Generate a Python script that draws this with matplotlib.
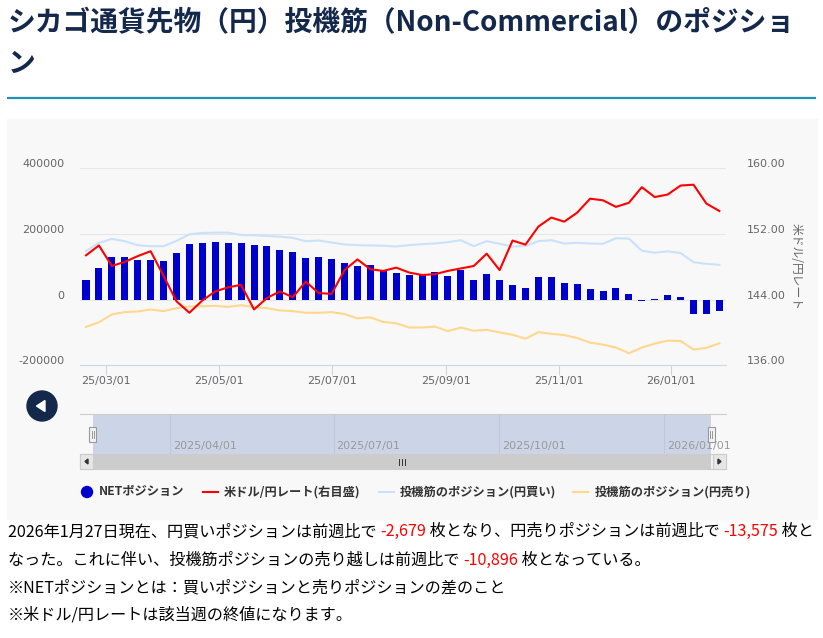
import pandas as pd
import matplotlib
matplotlib.use('Agg')
import matplotlib.pyplot as plt
import matplotlib.dates as mdates
import matplotlib.transforms as mtransforms
from matplotlib.patches import Rectangle, Circle, Polygon

plt.rcParams['font.family'] = ['Noto Sans CJK JP', 'DejaVu Sans']

# weekly COT report dates (Tuesdays)
weeks = pd.date_range('2025-02-18', periods=50, freq='7D')

net_position = [59000, 95000, 131000, 131000, 122000, 122000, 119000, 143000, 168000, 174000,
                177000, 174000, 171000, 165000, 162000, 150000, 144000, 128000, 131000, 125000,
                113000, 101000, 104000, 86000, 80000, 74000, 74000, 83000, 71000, 89000,
                59000, 77000, 59000, 44000, 35000, 68000, 68000, 50000, 47000, 32000,
                25000, 34000, 17000, -4000, 2000, 14000, 7000, -43000, -43000, -34000]

usdjpy = [149.4, 150.6, 148.1, 148.6, 149.3, 149.9, 146.9, 143.8, 142.4, 143.9,
          145.0, 145.5, 145.8, 142.8, 144.2, 145.0, 144.3, 146.2, 144.8, 144.7,
          147.6, 148.9, 147.7, 147.5, 147.9, 147.3, 147.0, 147.1, 147.5, 147.8,
          148.1, 149.6, 147.6, 151.2, 150.7, 152.9, 154.0, 153.5, 154.6, 156.3,
          156.1, 155.3, 155.8, 157.7, 156.5, 156.8, 157.9, 158.0, 155.7, 154.8]

long_position = [147700, 172900, 184900, 177900, 165800, 162800, 162800, 178900, 199000, 203000,
                 204000, 204000, 197000, 196000, 194000, 192000, 188000, 178000, 180000, 174000,
                 168000, 166000, 165000, 164000, 162000, 166000, 169000, 171000, 175000, 181000,
                 163000, 178000, 170000, 162000, 163000, 178000, 181000, 171000, 173000, 171000,
                 170000, 187000, 186000, 149000, 143000, 147000, 142000, 114000, 109000, 106000]

short_position = [-83000, -69000, -45000, -38000, -36000, -30000, -35000, -26000, -21000, -20000,
                  -19000, -22000, -17000, -23000, -26000, -33000, -35000, -40000, -40000, -38000,
                  -44000, -57000, -54000, -68000, -72000, -85000, -85000, -82000, -96000, -85000,
                  -95000, -92000, -100000, -107000, -119000, -99000, -104000, -108000, -117000, -131000,
                  -137000, -146000, -163000, -146000, -134000, -125000, -126000, -152000, -147000, -133000]

left_ticks = [-200000, 0, 200000, 400000]
right_ticks = [136, 144, 152, 160]
month_ticks = pd.to_datetime(['2025-03-01', '2025-05-01', '2025-07-01',
                              '2025-09-01', '2025-11-01', '2026-01-01'])
nav_ticks = pd.to_datetime(['2025-04-01', '2025-07-01', '2025-10-01', '2026-01-01'])

title_lines = ['シカゴ通貨先物（円）投機筋（Non-Commercial）のポジショ', 'ン']
legend_labels = ['NETポジション', '米ドル/円レート(右目盛)',
                 '投機筋のポジション(円買い)', '投機筋のポジション(円売り)']

BLUE = '#0000cc'
RED = '#ff0000'
LIGHTBLUE = '#c9e2fb'
ORANGE = '#ffd88e'
NAVY = '#14284b'

W, H = 823, 638
fig = plt.figure(figsize=(W / 100, H / 100), dpi=100)


def box(x0, y0, x1, y1):
    # pixel box, origin top-left -> figure fraction
    return [x0 / W, 1 - y1 / H, (x1 - x0) / W, (y1 - y0) / H]


# page / decoration layer in pixel coordinates
bg = fig.add_axes([0, 0, 1, 1], zorder=0)
bg.set_xlim(0, W)
bg.set_ylim(H, 0)
bg.axis('off')

bg.add_patch(Rectangle((7, 119), 810, 400, color='#f8f8f8', zorder=0))
bg.plot([7, 816], [98, 98], color='#1f93b6', lw=1.6, solid_capstyle='butt')
bg.text(8, 31, title_lines[0], fontsize=20, fontweight='bold', color=NAVY, va='baseline')
bg.text(8, 72, title_lines[1], fontsize=20, fontweight='bold', color=NAVY, va='baseline')

# main chart
ax = fig.add_axes(box(80, 168.3, 726, 365.3), zorder=2)
ax.set_facecolor('none')
ax.bar(weeks, net_position, width=3.8, color=BLUE, zorder=2)
ax.plot(weeks, long_position, color=LIGHTBLUE, lw=1.5, zorder=3)
ax.plot(weeks, short_position, color=ORANGE, lw=1.5, zorder=3)
ax.set_ylim(-200000, 400000)
ax.set_yticks(left_ticks)
ax.set_yticklabels([str(v) for v in left_ticks])
ax.set_xlim(mdates.date2num(pd.Timestamp('2025-03-01')) - 14.25,
            mdates.date2num(pd.Timestamp('2026-01-01')) + 29.6)
ax.set_xticks(month_ticks)
ax.xaxis.set_major_formatter(mdates.DateFormatter('%y/%m/%d'))
ax.grid(axis='y', color='#e6e6e6', lw=0.75, zorder=0)
ax.set_axisbelow(True)
for s in ['top', 'left', 'right']:
    ax.spines[s].set_visible(False)
ax.spines['bottom'].set_color('#ccd6eb')
ax.spines['bottom'].set_linewidth(0.8)
ax.tick_params(axis='y', length=0, pad=11, labelsize=8, labelcolor='#666666')
ax.tick_params(axis='x', length=7, width=0.8, color='#ccd6eb', pad=1,
               labelsize=8, labelcolor='#666666')

ax2 = ax.twinx()
ax2.plot(weeks, usdjpy, color=RED, lw=1.5, zorder=4)
ax2.set_ylim(136, 160)
ax2.set_yticks(right_ticks)
ax2.set_yticklabels(['%.2f' % v for v in right_ticks])
for s in ['top', 'left', 'right', 'bottom']:
    ax2.spines[s].set_visible(False)
ax2.tick_params(axis='y', length=0, pad=15, labelsize=8, labelcolor='#666666')

# value labels sit a few pixels above their grid lines
lift = mtransforms.ScaledTranslation(0, 5 / 100, fig.dpi_scale_trans)
for lab in ax.get_yticklabels() + ax2.get_yticklabels():
    lab.set_transform(lab.get_transform() + lift)
for lab in ax.get_xticklabels() + ax.get_yticklabels() + ax2.get_yticklabels():
    lab.set_fontfamily('DejaVu Sans')

bg.text(796, 266, '米ドル/円レート', rotation=-90, fontsize=8.5, color='#666666',
        ha='center', va='center')

# back button
bg.add_patch(Circle((42, 406), 15, color=NAVY))
bg.add_patch(Polygon([(36.5, 406), (45, 400.5), (45, 411.5)], closed=True, color='white'))

# navigator
nav = fig.add_axes(box(80, 414, 726, 454), zorder=2)
nav.set_facecolor('none')
nav.set_xlim(mdates.date2num(pd.Timestamp('2025-02-10')),
             mdates.date2num(pd.Timestamp('2026-02-04 07:00')))
nav.set_ylim(0, 1)
nav.set_xticks([])
nav.set_yticks([])
for s in ['left', 'right', 'bottom']:
    nav.spines[s].set_visible(False)
nav.spines['top'].set_color('#cccccc')
nav.spines['top'].set_linewidth(0.8)
nav.axvspan(weeks[0] - pd.Timedelta(days=1), weeks[-1], color='#ccd5e8', lw=0, zorder=1)
for d in nav_ticks:
    nav.axvline(d, color='#bfc7da', lw=0.8, zorder=2)
    nav.annotate(d.strftime('%Y/%m/%d'), xy=(d, 0.2), xytext=(2.2, 0),
                 textcoords='offset points', fontsize=8, color='#999999',
                 va='center', ha='left', fontfamily='DejaVu Sans', annotation_clip=False)

fig.canvas.draw()
left_px = nav.transData.transform((mdates.date2num(weeks[0] - pd.Timedelta(days=1)), 0))[0]
right_px = nav.transData.transform((mdates.date2num(weeks[-1]), 0))[0]

fg = fig.add_axes([0, 0, 1, 1], zorder=5)
fg.set_xlim(0, W)
fg.set_ylim(H, 0)
fg.axis('off')
fg.patch.set_visible(False)

for hx in [left_px, right_px]:
    fg.add_patch(Rectangle((hx - 3.5, 427), 7, 15, facecolor='#f2f2f2',
                           edgecolor='#999999', lw=0.8))
    fg.plot([hx - 1, hx - 1], [431, 438], color='#999999', lw=0.7)
    fg.plot([hx + 1, hx + 1], [431, 438], color='#999999', lw=0.7)

# scrollbar
fg.add_patch(Rectangle((80, 454), 646, 15, facecolor='#f2f2f2', edgecolor='#cccccc', lw=0.8))
fg.add_patch(Rectangle((left_px, 454), right_px - left_px, 15, facecolor='#cccccc', lw=0))
fg.add_patch(Rectangle((80, 454), 13, 15, facecolor='#e6e6e6', edgecolor='#cccccc', lw=0.8))
fg.add_patch(Rectangle((713, 454), 13, 15, facecolor='#e6e6e6', edgecolor='#cccccc', lw=0.8))
fg.add_patch(Polygon([(85, 461.5), (88, 459), (88, 464)], closed=True, color='#333333'))
fg.add_patch(Polygon([(721, 461.5), (718, 459), (718, 464)], closed=True, color='#333333'))
mid = (left_px + right_px) / 2
for dx in [-3, 0, 3]:
    fg.plot([mid + dx, mid + dx], [459, 465], color='#333333', lw=0.7)

# legend
ly = 492
fg.add_patch(Circle((87, ly), 5.5, color=BLUE))
fg.text(99, ly, legend_labels[0], fontsize=8.8, fontweight='bold', color='#333333', va='center')
fg.plot([203, 218], [ly, ly], color=RED, lw=1.5)
fg.text(224, ly, legend_labels[1], fontsize=8.8, fontweight='bold', color='#333333', va='center')
fg.plot([379, 394], [ly, ly], color=LIGHTBLUE, lw=1.5)
fg.text(400, ly, legend_labels[2], fontsize=8.8, fontweight='bold', color='#333333', va='center')
fg.plot([573, 588], [ly, ly], color=ORANGE, lw=1.5)
fg.text(595, ly, legend_labels[3], fontsize=8.8, fontweight='bold', color='#333333', va='center')

# commentary below the chart
renderer = fig.canvas.get_renderer()


def colored_line(x, y, parts):
    for s, c in parts:
        t = fg.text(x, y, s, fontsize=11.6, color=c, va='baseline')
        x += t.get_window_extent(renderer).width


colored_line(8, 536, [('2026年1月27日現在、円買いポジションは前週比で ', 'black'),
                      ('-2,679', RED),
                      (' 枚となり、円売りポジションは前週比で ', 'black'),
                      ('-13,575', RED),
                      (' 枚と', 'black')])
colored_line(8, 565, [('なった。これに伴い、投機筋ポジションの売り越しは前週比で ', 'black'),
                      ('-10,896', RED),
                      (' 枚となっている。', 'black')])
colored_line(8, 592, [('※NETポジションとは：買いポジションと売りポジションの差のこと', 'black')])
colored_line(8, 620, [('※米ドル/円レートは該当週の終値になります。', 'black')])

fig.savefig('out.png', dpi=100)
